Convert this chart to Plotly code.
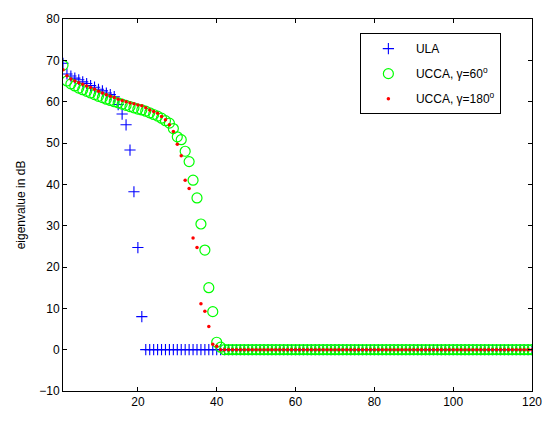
import plotly.graph_objects as go

n_points = 120
x_idx = list(range(1, n_points + 1))

ula_head = [69.3, 66.7, 66.2, 65.7, 65.3, 64.8, 64.4, 63.9, 63.5, 63.0, 62.6, 62.1,
            61.7, 61.2, 59.3, 57.0, 54.4, 48.3, 38.2, 24.7, 8.0]
ula = ula_head + [0.0] * (n_points - len(ula_head))

ucca60_head = [68.8, 65.0, 64.3, 63.8, 63.3, 62.9, 62.5, 62.1, 61.7, 61.3, 61.0, 60.6,
               60.3, 60.0, 59.7, 59.4, 59.1, 58.8, 58.5, 58.2, 58.0, 57.7, 57.3, 56.9,
               56.5, 56.0, 55.4, 54.8, 53.5, 51.5, 50.8, 48.0, 45.5, 41.0, 36.7, 30.4,
               24.1, 15.0, 9.2, 1.8, 0.6]
ucca60 = ucca60_head + [0.0] * (n_points - len(ucca60_head))

ucca180_head = [67.7, 66.3, 65.5, 65.0, 64.6, 64.2, 63.8, 63.4, 63.0, 62.5, 62.1, 61.7,
                61.3, 61.0, 60.6, 60.3, 60.0, 59.7, 59.5, 59.2, 59.0, 58.5, 58.0, 57.6,
                57.2, 56.4, 55.6, 54.4, 52.8, 49.7, 46.9, 41.0, 39.0, 27.0, 24.7, 11.1,
                9.3, 5.6, 1.3, 0.8]
ucca180 = ucca180_head + [0.0] * (n_points - len(ucca180_head))

x_ticks = [20, 40, 60, 80, 100, 120]
y_ticks = [-10, 0, 10, 20, 30, 40, 50, 60, 70, 80]

font_family = "Liberation Sans, Arial, Helvetica, sans-serif"

fig = go.Figure()
fig.add_trace(go.Scatter(
    x=x_idx, y=ula, mode="markers", name="ULA", legendgroup="a",
    marker=dict(symbol="cross-thin", size=8, color="#0000ff",
                line=dict(color="#0000ff", width=1.1))))
fig.add_trace(go.Scatter(
    x=x_idx, y=ucca60, mode="markers", name="UCCA, γ=60<sup>o</sup>", legendgroup="b",
    marker=dict(symbol="circle-open", size=10, color="#00ff00",
                line=dict(color="#00ff00", width=1.2))))
fig.add_trace(go.Scatter(
    x=x_idx, y=ucca180, mode="markers", name="UCCA, γ=180<sup>o</sup>", legendgroup="c",
    marker=dict(symbol="circle", size=3.5, color="#ff0000")))

axis_common = dict(
    showgrid=False, zeroline=False, showline=True, linecolor="black", linewidth=1,
    mirror="ticks", ticks="inside", ticklen=4, tickcolor="black",
    ticklabeloverflow="allow",
    tickfont=dict(family=font_family, size=12, color="black"),
)

fig.update_layout(
    width=554, height=421,
    margin=dict(l=63, r=17, t=13, b=24),
    paper_bgcolor="white", plot_bgcolor="white",
    font=dict(family=font_family, size=12, color="black"),
    xaxis=dict(range=[1, 120], tickvals=x_ticks, **axis_common),
    yaxis=dict(range=[-10, 80], tickvals=y_ticks,
               title=dict(text="eigenvalue in dB", standoff=11,
                          font=dict(family=font_family, size=12)),
               **axis_common),
    legend=dict(x=0.633, y=0.962, xanchor="left", yanchor="top",
                bgcolor="white", bordercolor="black", borderwidth=1,
                font=dict(family=font_family, size=12), itemwidth=45,
                tracegroupgap=6),
    showlegend=True,
)

fig.write_html(
    "out.html",
    config={"displayModeBar": False},
    post_script="document.body.style.margin='0px';document.body.style.overflow='hidden';",
)
